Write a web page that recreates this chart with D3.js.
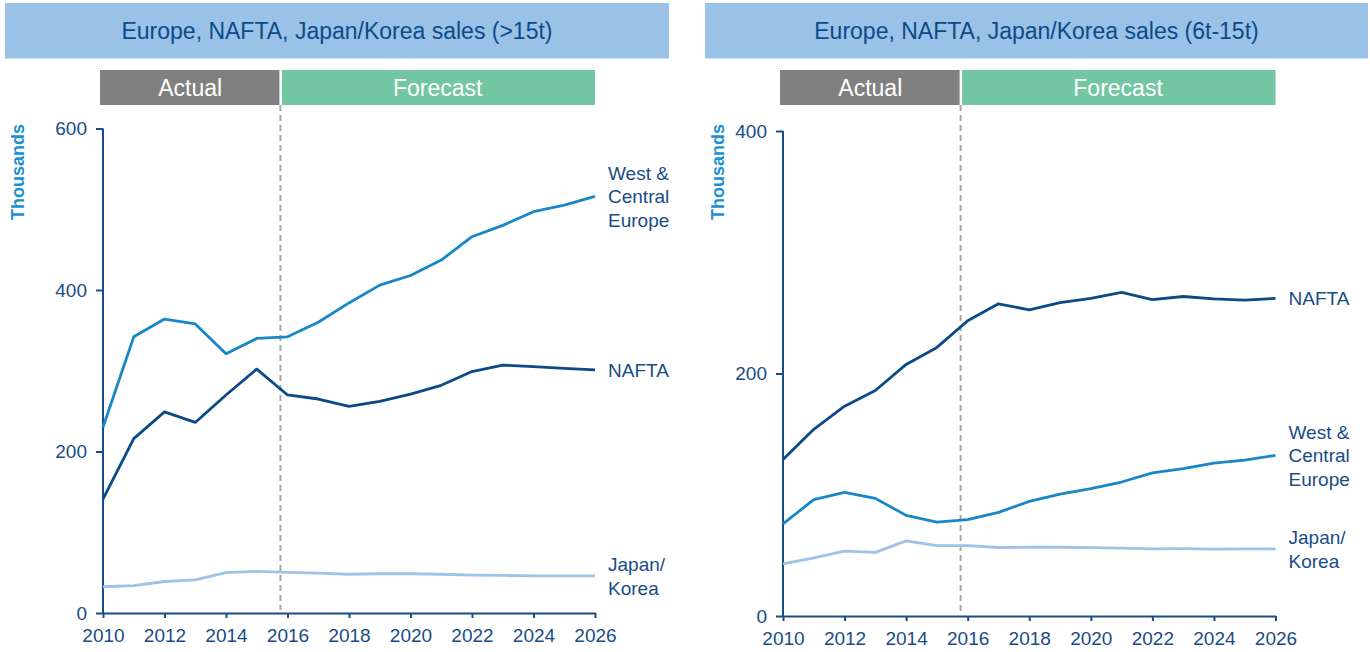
<!DOCTYPE html>
<html>
  <script src="https://d3js.org/d3.v7.js"></script>
  <style>
    body { margin: 0; background: #fff; }
    text { font-family: "Liberation Sans", Arial, sans-serif; }
  </style>
  <body>
    <svg id="chart" width="1370" height="652"></svg>
    <script>
      // Years on the x axis
      const years = [2010, 2011, 2012, 2013, 2014, 2015, 2016, 2017, 2018,
                     2019, 2020, 2021, 2022, 2023, 2024, 2025, 2026];
      const splitYear = 2015.77; // actual / forecast boundary

      // >15t sales, thousands
      const heavyWCE = [230, 342, 364, 358, 321, 340, 342, 360, 384, 406, 418, 437, 466, 480, 497, 505, 516];
      const heavyNafta = [141, 216, 249, 236, 270, 302, 270, 265, 256, 262, 271, 282, 299, 307, 305, 303, 301];
      const heavyJK = [32.5, 34, 39, 41, 50, 51.5, 50.3, 49.5, 48, 48.6, 48.6, 48, 47, 46.5, 46, 46, 46];

      // 6t-15t sales, thousands
      const mediumWCE = [76, 96, 102, 97, 83, 77.5, 79.5, 85.5, 94.5, 100.5, 105, 110.5, 118, 121.5, 126, 128.5, 132.5];
      const mediumNafta = [129, 154, 173, 186, 207.5, 221.5, 243.5, 257.5, 252.5, 258.5, 262, 267, 261, 263.5, 261.5, 260.5, 262];
      const mediumJK = [43, 48, 53.5, 52.5, 62, 58, 58, 56.5, 56.7, 56.7, 56.4, 56, 55.3, 55.5, 55.2, 55.3, 55.3];

      const yTicksHeavy = [0, 200, 400, 600];
      const yTicksMedium = [0, 200, 400];
      const xTicks = [2010, 2012, 2014, 2016, 2018, 2020, 2022, 2024, 2026];

      const colWCE = "#1887c8";
      const colNafta = "#0b4a86";
      const colJK = "#9cc3e8";
      const textCol = "#184c87";

      const svg = d3.select("#chart");

      function drawPanel(p) {
        const g = svg.append("g");
        const x = d3.scaleLinear().domain([2010, 2026]).range(p.xRange);
        const y = d3.scaleLinear().domain([0, p.yMax]).range(p.yRange);

        // Title band
        g.append("rect")
          .attr("x", p.band[0]).attr("y", 3)
          .attr("width", p.band[1] - p.band[0]).attr("height", 55.5)
          .attr("fill", "#99c2e6");
        g.append("text")
          .attr("x", (p.band[0] + p.band[1]) / 2).attr("y", 39)
          .attr("text-anchor", "middle")
          .attr("font-size", "23px")
          .attr("fill", "#0d4a8a")
          .text(p.title);

        // Actual / Forecast header bars
        const xs = x(splitYear);
        g.append("rect")
          .attr("x", x(2010) - 3).attr("y", 70)
          .attr("width", xs - 1 - (x(2010) - 3)).attr("height", 35)
          .attr("fill", "#808080");
        g.append("rect")
          .attr("x", xs + 1.5).attr("y", 70)
          .attr("width", x(2026) - xs - 1.5).attr("height", 35)
          .attr("fill", "#72c6a1");
        g.append("text")
          .attr("x", (x(2010) - 3 + xs) / 2).attr("y", 96)
          .attr("text-anchor", "middle").attr("font-size", "23px")
          .attr("fill", "#fff").text("Actual");
        g.append("text")
          .attr("x", (xs + x(2026)) / 2).attr("y", 96)
          .attr("text-anchor", "middle").attr("font-size", "23px")
          .attr("fill", "#fff").text("Forecast");

        // Dashed split line
        g.append("line")
          .attr("x1", xs).attr("x2", xs)
          .attr("y1", 105).attr("y2", p.yRange[0] - 3)
          .attr("stroke", "#a6a6a6").attr("stroke-width", 2)
          .attr("stroke-dasharray", "6,4");

        // Axes
        const yAxis = g.append("g")
          .attr("transform", "translate(" + p.xRange[0] + ",0)")
          .call(d3.axisLeft(y).tickValues(p.yTicks).tickSize(7).tickPadding(9).tickSizeOuter(0));
        const xAxis = g.append("g")
          .attr("transform", "translate(0," + p.yRange[0] + ")")
          .call(d3.axisBottom(x).tickValues(xTicks).tickFormat(d3.format("d"))
            .tickSize(5).tickPadding(11).tickSizeOuter(0));
        [yAxis, xAxis].forEach(function (a) {
          a.select(".domain").attr("stroke", textCol).attr("stroke-width", 2);
          a.selectAll(".tick line").attr("stroke", textCol).attr("stroke-width", 2);
          a.selectAll(".tick text").attr("fill", textCol)
            .attr("font-size", "19px").attr("font-family", "Liberation Sans, Arial, sans-serif");
        });
        // extend y domain to cover the top tick
        yAxis.select(".domain").attr("d", "M0," + y(p.yMax) + "V" + p.yRange[0]);

        // y axis title
        g.append("text")
          .attr("transform", "translate(" + p.unitX + ",172) rotate(-90)")
          .attr("text-anchor", "middle")
          .attr("font-size", "18px").attr("font-weight", "bold")
          .attr("fill", "#1a8fd1")
          .text("Thousands");

        // Lines
        const line = d3.line()
          .x(function (d, i) { return x(years[i]); })
          .y(function (d) { return y(d); });

        p.series.forEach(function (s) {
          g.append("path")
            .datum(s.values)
            .attr("d", line)
            .attr("fill", "none")
            .attr("stroke", s.color)
            .attr("stroke-width", 2.8)
            .attr("stroke-linejoin", "round");

          // end label, centred on last value
          const last = s.values[s.values.length - 1];
          const lh = 23.5;
          const y0 = y(last) - (s.label.length - 1) * lh / 2;
          const t = g.append("text")
            .attr("x", x(2026) + 13)
            .attr("font-size", "19px")
            .attr("fill", textCol);
          s.label.forEach(function (l, i) {
            t.append("tspan")
              .attr("x", x(2026) + 13)
              .attr("y", y0 + i * lh + 7)
              .text(l);
          });
        });
      }

      drawPanel({
        title: "Europe, NAFTA, Japan/Korea sales (>15t)",
        band: [5, 669],
        xRange: [103, 595],
        yRange: [613, 128.5],
        yMax: 600,
        yTicks: yTicksHeavy,
        unitX: 24,
        series: [
          { values: heavyJK, color: colJK, label: ["Japan/", "Korea"] },
          { values: heavyNafta, color: colNafta, label: ["NAFTA"] },
          { values: heavyWCE, color: colWCE, label: ["West &", "Central", "Europe"] }
        ]
      });

      drawPanel({
        title: "Europe, NAFTA, Japan/Korea sales (6t-15t)",
        band: [705, 1368],
        xRange: [783, 1275.5],
        yRange: [616, 131],
        yMax: 400,
        yTicks: yTicksMedium,
        unitX: 724,
        series: [
          { values: mediumJK, color: colJK, label: ["Japan/", "Korea"] },
          { values: mediumWCE, color: colWCE, label: ["West &", "Central", "Europe"] },
          { values: mediumNafta, color: colNafta, label: ["NAFTA"] }
        ]
      });
    </script>
  </body>
</html>
